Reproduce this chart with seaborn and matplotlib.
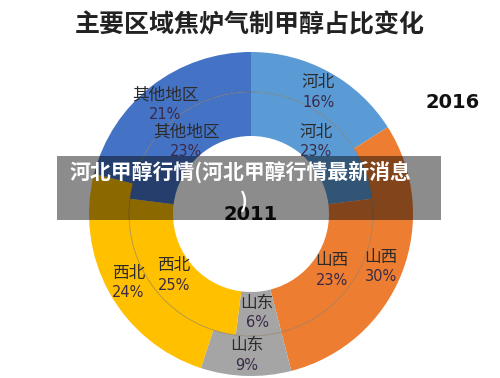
import numpy as np
import matplotlib
matplotlib.use('Agg')
import matplotlib.pyplot as plt
import seaborn as sns
from matplotlib.patches import Rectangle, Circle

# data
regions = ['河北', '山西', '山东', '西北', '其他地区']
share_2016 = [16, 30, 9, 24, 21]
share_2011 = [23, 23, 6, 25, 23]
colors = ['#5B9BD5', '#ED7D31', '#A5A5A5', '#FFC000', '#4472C4']

sns.set_theme(style='white')
plt.rcParams['font.family'] = ['Noto Sans CJK SC', 'DejaVu Sans']

fig = plt.figure(figsize=(5, 3.78), dpi=100)
ax = fig.add_axes([0, 0, 1, 1])

cx, cy = 251, 164
r_out, r_mid, r_in = 162, 122, 78

outer, _ = ax.pie(share_2016, colors=colors, radius=r_out, center=(cx, cy),
                  startangle=90, counterclock=False,
                  wedgeprops=dict(width=r_out - r_mid, edgecolor='none'), frame=True)
inner, _ = ax.pie(share_2011, colors=colors, radius=r_mid, center=(cx, cy),
                  startangle=90, counterclock=False,
                  wedgeprops=dict(width=r_mid - r_in, edgecolor='none'), frame=True)
# thin line between the two rings
ax.add_patch(Circle((cx, cy), r_mid, fill=False, edgecolor='#7a6a50',
                    linewidth=0.5, alpha=0.7))
ax.set_xlim(0, 500)
ax.set_ylim(0, 378)
ax.set_aspect('equal')
ax.axis('off')


def put_labels(wedges, values, rad):
    for w, name, v in zip(wedges, regions, values):
        ang = np.deg2rad((w.theta1 + w.theta2) / 2)
        x = cx + rad * np.cos(ang)
        y = cy + rad * np.sin(ang)
        ax.annotate(name, (x, y), xytext=(0, 6), textcoords='offset points',
                    ha='center', va='center', fontsize=12, color='#2b2b2b')
        ax.annotate(f'{v}%', (x, y), xytext=(0, -8), textcoords='offset points',
                    ha='center', va='center', fontsize=10.5, color='#3a2a48',
                    family=['DejaVu Sans'])


put_labels(outer, share_2016, 140)
put_labels(inner, share_2011, 98)

ax.text(250, 353, '主要区域焦炉气制甲醇占比变化', ha='center', va='center',
        fontsize=18, fontweight='bold', color='#222222')
ax.text(453, 275, '2016', ha='center', va='center', fontsize=14,
        fontweight='bold', color='#111111', family=['DejaVu Sans'])
ax.text(251, 163, '2011', ha='center', va='center', fontsize=14,
        fontweight='bold', color='#111111', family=['DejaVu Sans'])

# watermark band
ax.add_patch(Rectangle((57, 158), 384, 64, facecolor='black', alpha=0.45,
                       edgecolor='none', zorder=5))
ax.text(240, 206, '河北甲醇行情(河北甲醇行情最新消息', ha='center', va='center',
        fontsize=15, fontweight='bold', color='white', zorder=6)
ax.text(244, 177, ')', ha='center', va='center',
        fontsize=15, fontweight='bold', color='white', zorder=6)

fig.savefig('out.png', dpi=100)
